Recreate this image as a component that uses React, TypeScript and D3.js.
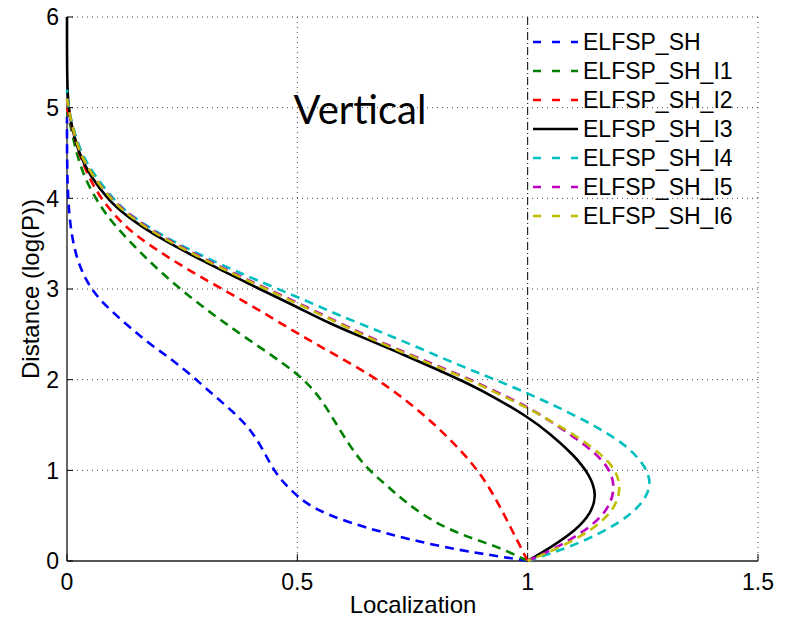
import * as d3 from "d3";

// Localization vs distance
// each series: [localization, distance] pairs, from distance 0 upwards
const seriesNames = ["ELFSP_SH", "ELFSP_SH_I1", "ELFSP_SH_I2", "ELFSP_SH_I3", "ELFSP_SH_I4", "ELFSP_SH_I5", "ELFSP_SH_I6"];
const seriesColors = ["#0000ff", "#008000", "#ff0000", "#000000", "#00bfbf", "#bf00bf", "#bfbf00"];
const seriesDashed = [true, true, true, false, true, true, true];

const elfsp: [number, number][] = [
  [1, 0], [0.94, 0.05], [0.85, 0.12], [0.74, 0.24], [0.64, 0.38], [0.57, 0.5], [0.52, 0.63],
  [0.49, 0.76], [0.46, 0.92], [0.44, 1.08], [0.42, 1.28], [0.395, 1.47], [0.36, 1.65],
  [0.32, 1.82], [0.27, 2.05], [0.22, 2.25], [0.17, 2.43], [0.12, 2.65], [0.07, 2.88],
  [0.04, 3.1], [0.02, 3.35], [0.008, 3.65], [0.002, 4.0], [0, 4.4], [0, 4.9],
];
const elfspI1: [number, number][] = [
  [1, 0], [0.96, 0.1], [0.91, 0.2], [0.85, 0.3], [0.79, 0.45], [0.734, 0.65], [0.69, 0.85],
  [0.645, 1.05], [0.61, 1.3], [0.58, 1.55], [0.55, 1.8], [0.515, 2.0], [0.47, 2.18],
  [0.4, 2.42], [0.33, 2.67], [0.267, 2.91], [0.2, 3.2], [0.15, 3.45], [0.1, 3.72],
  [0.07, 3.93], [0.04, 4.2], [0.02, 4.5], [0.008, 4.8], [0, 4.95],
];
const elfspI2: [number, number][] = [
  [1, 0], [0.985, 0.15], [0.965, 0.35], [0.935, 0.65], [0.9, 0.95], [0.855, 1.22], [0.8, 1.5],
  [0.74, 1.76], [0.67, 2.02], [0.58, 2.28], [0.5, 2.51], [0.41, 2.79], [0.33, 3.02],
  [0.26, 3.22], [0.195, 3.43], [0.13, 3.66], [0.08, 3.95], [0.05, 4.2], [0.025, 4.5],
  [0.01, 4.8], [0, 5.0],
];
const elfspI3: [number, number][] = [
  [1, 0], [1.05, 0.15], [1.105, 0.34], [1.138, 0.53], [1.15, 0.73], [1.135, 0.95], [1.1, 1.17],
  [1.05, 1.4], [1.0, 1.59], [0.93, 1.8], [0.87, 1.96], [0.8, 2.12], [0.72, 2.3], [0.64, 2.47],
  [0.57, 2.62], [0.5, 2.8], [0.41, 3.02], [0.31, 3.27], [0.2, 3.56], [0.13, 3.8], [0.09, 3.98],
  [0.05, 4.25], [0.025, 4.5], [0.01, 4.8], [0.003, 5.0], [0, 5.3], [0, 6],
];
const elfspI4: [number, number][] = [
  [1, 0], [1.055, 0.09], [1.128, 0.23], [1.2, 0.42], [1.25, 0.63], [1.27, 0.85], [1.255, 1.05],
  [1.22, 1.25], [1.17, 1.42], [1.12, 1.56], [1.06, 1.71], [1.0, 1.85], [0.92, 2.02],
  [0.846, 2.17], [0.76, 2.36], [0.67, 2.55], [0.59, 2.71], [0.52, 2.87], [0.41, 3.1],
  [0.33, 3.28], [0.23, 3.52], [0.15, 3.77], [0.11, 3.93], [0.06, 4.25], [0.03, 4.5],
  [0.012, 4.8], [0.003, 5.0], [0, 5.2],
];
const elfspI5: [number, number][] = [
  [1, 0], [1.064, 0.15], [1.128, 0.34], [1.175, 0.56], [1.19, 0.8], [1.18, 1.0], [1.15, 1.18],
  [1.1, 1.37], [1.05, 1.54], [1.0, 1.7], [0.93, 1.87], [0.868, 2.02], [0.8, 2.16], [0.734, 2.3],
  [0.66, 2.46], [0.59, 2.63], [0.5, 2.85], [0.41, 3.06], [0.31, 3.3], [0.2, 3.59], [0.14, 3.8],
  [0.1, 3.97], [0.055, 4.25], [0.027, 4.5], [0.011, 4.8], [0.003, 5.0], [0, 5.1],
];
const elfspI6: [number, number][] = [
  [1, 0], [1.07, 0.15], [1.14, 0.34], [1.188, 0.56], [1.203, 0.8], [1.192, 1.0], [1.16, 1.18],
  [1.108, 1.37], [1.055, 1.53], [1.0, 1.69], [0.93, 1.86], [0.868, 2.01], [0.8, 2.15],
  [0.734, 2.29], [0.66, 2.45], [0.59, 2.62], [0.5, 2.84], [0.41, 3.05], [0.31, 3.29],
  [0.2, 3.58], [0.14, 3.79], [0.1, 3.96], [0.055, 4.25], [0.027, 4.5], [0.011, 4.8],
  [0.003, 5.0], [0, 5.1],
];
const seriesData = [elfsp, elfspI1, elfspI2, elfspI3, elfspI4, elfspI5, elfspI6];

const xTicks = [0, 0.5, 1, 1.5];
const yTicks = [0, 1, 2, 3, 4, 5, 6];

const W = 786;
const H = 619;
const left = 67, right = 758, top = 17, bottom = 561;

export default function App() {
  const x = d3.scaleLinear().domain([0, 1.5]).range([left, right]);
  const y = d3.scaleLinear().domain([0, 6]).range([bottom, top]);
  // the read-off points are a bit noisy, so a B-spline keeps the curves smooth
  const line = d3
    .line<[number, number]>()
    .x((d) => x(d[0]))
    .y((d) => y(d[1]))
    .curve(d3.curveBasis);

  const font = "'Liberation Sans', Arial, sans-serif";

  return (
    <div style={{ position: "absolute", left: 0, top: 0 }}>
      <svg width={W} height={H} style={{ display: "block", background: "#fff" }}>
        {/* dotted grid */}
        {xTicks.filter((t) => t !== 0 && t !== 1).map((t) => (
          <line key={"gx" + t} x1={x(t)} x2={x(t)} y1={top} y2={bottom}
            stroke="#444" strokeWidth={1} strokeDasharray="1,4" />
        ))}
        {yTicks.filter((t) => t !== 0).map((t) => (
          <line key={"gy" + t} x1={left} x2={right} y1={y(t)} y2={y(t)}
            stroke="#444" strokeWidth={1} strokeDasharray="1,4" />
        ))}
        {/* dash-dot marker at localization = 1 */}
        <line x1={x(1)} x2={x(1)} y1={top} y2={bottom} stroke="#000" strokeWidth={1}
          strokeDasharray="8,3,1,3" />

        {/* axes */}
        <line x1={left} x2={left} y1={top} y2={bottom} stroke="#000" strokeWidth={1.2} />
        <line x1={left} x2={right} y1={bottom} y2={bottom} stroke="#555" strokeWidth={2} />
        {yTicks.map((t) => (
          <g key={"ty" + t}>
            <line x1={left} x2={left + 6} y1={y(t)} y2={y(t)} stroke="#000" />
            <text x={left - 8} y={y(t)} dy="0.36em" textAnchor="end" fontSize={23} fontFamily={font}>{t}</text>
          </g>
        ))}
        {xTicks.map((t) => (
          <g key={"tx" + t}>
            <line x1={x(t)} x2={x(t)} y1={bottom} y2={bottom - 7} stroke="#000" />
            <text x={x(t)} y={bottom + 29} textAnchor="middle" fontSize={23} fontFamily={font}>{t}</text>
          </g>
        ))}

        {/* series */}
        {seriesData.map((d, i) => (
          <path key={seriesNames[i]} d={line(d) ?? ""} fill="none" stroke={seriesColors[i]}
            strokeWidth={2.6} strokeDasharray={seriesDashed[i] ? "9,6" : undefined}
            strokeDashoffset={i === 6 ? 5 : 0} />
        ))}

        {/* title */}
        <text x={360} y={124} textAnchor="middle" fontSize={40} fontFamily="Lato, 'Open Sans', sans-serif">Vertical</text>

        {/* axis labels */}
        <text x={413} y={613} textAnchor="middle" fontSize={24} fontFamily={font}>Localization</text>
        <text transform={`translate(39,${(top + bottom) / 2}) rotate(-90)`} textAnchor="middle"
          fontSize={24} fontFamily={font}>Distance (log(P))</text>

        {/* legend */}
        {seriesNames.map((n, i) => {
          const ly = 42 + i * 29;
          return (
            <g key={"lg" + n}>
              <line x1={533} x2={578} y1={ly} y2={ly} stroke={seriesColors[i]} strokeWidth={2.6}
                strokeDasharray={seriesDashed[i] ? "8,11" : undefined} />
              <text x={583} y={ly} dy="0.36em" fontSize={23} fontFamily={font}>{n}</text>
            </g>
          );
        })}
      </svg>
    </div>
  );
}
